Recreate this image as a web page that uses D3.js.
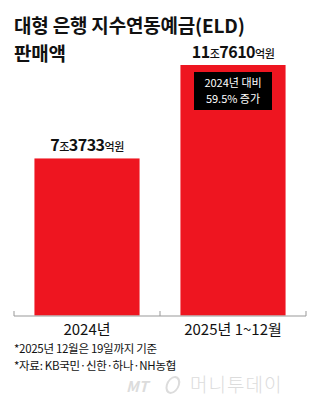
<!DOCTYPE html>
<html>
<head>
<meta charset="utf-8">
<script src="https://cdn.jsdelivr.net/npm/d3@7"></script>
<style>
  body { margin: 0; background: #fff; }
  svg text { font-family: "Liberation Sans Narrow", "Noto Sans CJK KR", sans-serif; }
  .kr { font-family: "Noto Sans CJK KR", sans-serif; }
</style>
</head>
<body>
<div class="chart"></div>
<script>
// data
var periods = ["2024년", "2025년 1~12월"];
var amounts = [73733, 117610];            // 억원
var amountLabels = [["7", "3733"], ["11", "7610"]];
var titleLines = ["대형 은행 지수연동예금(ELD)", "판매액"];
var noteLines = ["*2025년 12월은 19일까지 기준", "*자료: KB국민·신한·하나·NH농협"];
var callout = ["2024년 대비", "59.5% 증가"];

var W = 320, H = 419;
var svg = d3.select(".chart").append("svg")
    .attr("width", W).attr("height", H);

// title
svg.selectAll(".title").data(titleLines).enter()
  .append("text").attr("class", "kr")
    .attr("x", 14)
    .attr("y", function(d, i) { return 33 + i * 28; })
    .attr("font-size", 19).attr("font-weight", 700)
    .attr("letter-spacing", -0.2)
    .attr("fill", "#111")
    .text(function(d) { return d; });

// scales
var x = d3.scaleBand()
    .domain(periods)
    .range([14, 306])
    .paddingInner(0.28)
    .paddingOuter(0.14);

var y = d3.scaleLinear()
    .domain([0, 117610])
    .range([315.5, 65]);

var data = periods.map(function(p, i) {
  return {period: p, value: amounts[i], label: amountLabels[i]};
});

// bars
svg.selectAll(".bar").data(data).enter().append("rect")
    .attr("class", "bar")
    .attr("x", function(d) { return x(d.period); })
    .attr("width", x.bandwidth())
    .attr("y", function(d) { return y(d.value); })
    .attr("height", function(d) { return y(0) - y(d.value); })
    .attr("fill", "#ee1520");

// x axis
var axis = svg.append("g")
    .attr("transform", "translate(0," + 316 + ")");
axis.append("line")
    .attr("x1", 14).attr("x2", 306)
    .attr("stroke", "#999").attr("stroke-width", 1);
var tickX = [14, x.step() + 14, 306];
axis.selectAll(".tk").data(tickX).enter().append("line")
    .attr("x1", function(d) { return d; }).attr("x2", function(d) { return d; })
    .attr("y1", -5).attr("y2", 0)
    .attr("stroke", "#999");
axis.selectAll(".lbl").data(periods).enter().append("text")
    .attr("x", function(d) { return x(d) + x.bandwidth() / 2; })
    .attr("y", 18.5)
    .attr("text-anchor", "middle")
    .attr("font-size", 15)
    .attr("fill", "#111")
    .text(function(d) { return d; });

// value labels
var vl = svg.selectAll(".val").data(data).enter().append("text")
    .attr("x", function(d) { return x(d.period) + x.bandwidth() / 2; })
    .attr("y", function(d) { return y(d.value) - 7; })
    .attr("text-anchor", "middle")
    .attr("fill", "#111")
    .attr("letter-spacing", -0.5);
vl.append("tspan").attr("font-size", 16).attr("font-weight", 700)
    .text(function(d) { return d.label[0]; });
vl.append("tspan").attr("class", "kr").attr("font-size", 11).attr("font-weight", 500)
    .text("조");
vl.append("tspan").attr("font-size", 16).attr("font-weight", 700)
    .text(function(d) { return d.label[1]; });
vl.append("tspan").attr("class", "kr").attr("font-size", 11).attr("font-weight", 500)
    .text("억원");

// callout box in 2025 bar
var cx = x(periods[1]) + x.bandwidth() / 2;
svg.append("rect")
    .attr("x", cx - 39).attr("y", 72)
    .attr("width", 78).attr("height", 38)
    .attr("fill", "#000");
svg.selectAll(".co").data(callout).enter().append("text")
    .attr("x", cx)
    .attr("y", function(d, i) { return 87 + i * 16; })
    .attr("text-anchor", "middle")
    .attr("font-size", 11)
    .attr("fill", "#fff")
    .text(function(d) { return d; });

// notes
svg.selectAll(".note").data(noteLines).enter().append("text")
    .attr("x", 14)
    .attr("y", function(d, i) { return 353 + i * 17; })
    .attr("font-size", 11.5)
    .attr("letter-spacing", -0.3)
    .attr("fill", "#111")
    .text(function(d) { return d; });

// watermark
var wm = svg.append("g").attr("fill", "#dcdcdc");
wm.append("text")
    .attr("x", 126).attr("y", 392)
    .attr("font-size", 15).attr("font-style", "italic").attr("font-weight", 700)
    .text("MT");
wm.append("ellipse")
    .attr("cx", 173).attr("cy", 385).attr("rx", 6).attr("ry", 8)
    .attr("fill", "none").attr("stroke", "#dcdcdc").attr("stroke-width", 2)
    .attr("transform", "skewX(-15) translate(103,0)");
wm.append("text").attr("class", "kr")
    .attr("x", 190).attr("y", 392)
    .attr("font-size", 19).attr("font-weight", 300)
    .attr("letter-spacing", 1)
    .text("머니투데이");
</script>
</body>
</html>
